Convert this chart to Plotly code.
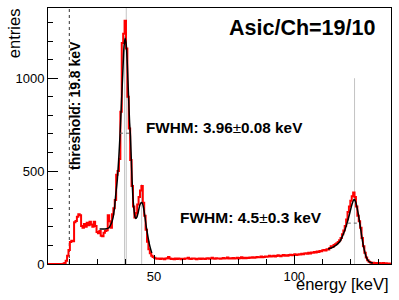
import numpy as np
import plotly.graph_objects as go

# ---------------- data ----------------
BIN_START = 12.0   # keV, left edge of first bin
BIN_WIDTH = 0.5    # keV

counts = (
    [0, 0, 0, 0, 0, 0, 0, 0, 0, 0, 0]
    + [1, 5, 18, 45, 75, 118, 125, 122, 225, 232,
       255, 268, 262, 205, 195, 215, 200, 222, 208, 228,
       212, 200, 228, 205, 172, 165, 178, 152, 150, 168,
       178, 182, 262, 230, 195, 268, 300, 345, 480, 500,
       565, 820, 1190, 1240, 1310, 1160, 900, 730, 560, 420,
       310, 250, 275, 320, 360, 395, 420, 330, 260, 185,
       120, 80, 58, 45, 38]
    + [33, 30, 28, 29, 27, 30, 28, 26, 29, 31,
       38, 30, 27, 28, 26, 29, 27, 30, 28, 26,
       28, 27, 30, 29, 34, 28, 27, 29, 30, 28,
       26, 28, 29, 27, 30, 28, 27, 29, 31, 28,
       30, 33, 29, 28, 31, 29, 30, 28, 30, 32,
       29, 31, 35, 30, 31, 29, 32, 30, 31, 33,
       30, 32, 36, 31, 33, 31, 34, 32, 35, 33]
    + [36, 34, 35, 38, 36, 37, 40, 36, 38, 41,
       39, 40, 44, 40, 42, 45, 41, 43, 47, 44,
       42, 46, 48, 45, 47, 44, 48, 50, 47, 49,
       52, 48, 50, 53, 51, 55, 52, 56, 58, 55,
       60, 57, 62, 60, 64, 62, 67, 65, 70, 68,
       74, 76, 72, 80]
    + [78, 86, 95, 92, 102, 106, 112, 118, 128, 140,
       160, 180, 205, 240, 280, 310, 340, 365, 385, 360,
       310, 260, 230, 195, 140, 95, 60, 35, 20, 12,
       8, 6, 7, 5, 4, 6, 5, 3, 4, 5,
       3, 4, 2, 3, 2]
)

fit1_e = [30.6, 31.5, 32.5, 33.5, 34.0, 34.5, 35.0, 35.4, 35.9, 36.4, 36.9,
          37.4, 37.9, 38.4, 38.9, 39.3, 39.7, 40.1, 40.5, 40.9, 41.3, 41.6,
          42.0, 42.4, 42.8, 43.2, 43.5, 43.9, 44.4, 44.9, 45.4, 45.8, 46.3,
          46.8, 47.3, 47.8, 48.3, 48.8, 49.2]
fit1_c = [188, 188, 189, 192, 197, 210, 228, 250, 300, 380, 450,
          560, 700, 870, 1040, 1170, 1215, 1180, 1070, 910, 760, 690,
          520, 380, 300, 255, 245, 252, 280, 315, 330, 328, 300,
          250, 195, 150, 110, 80, 60]

fit2_e = [112.1, 113.2, 114.3, 115.3, 116.3, 117.2, 118.1, 119.0, 119.85, 120.6,
          121.4, 122.0, 122.7, 123.45, 124.0, 124.6, 125.2, 125.8, 126.4, 127.0, 128.0]
fit2_c = [81, 86, 95, 106, 121, 150, 185, 228, 277, 322,
          348, 330, 280, 212, 155, 103, 62, 33, 18, 10, 5]

marker_e = [39.5, 40.1, 45.6, 121.5]
marker_top = [1230, 1378, 430, 1000]

fwhm_y = [704, 220]
fwhm_lo = [37.9, 119.1]
fwhm_hi = [41.7, 123.0]

threshold_e = 19.8
x_range = [12.2, 134.5]
y_range = [0, 1378]

FONT = "Liberation Sans, Arial, Helvetica, sans-serif"

# ---------------- figure ----------------
edges = BIN_START + BIN_WIDTH * np.arange(len(counts) + 1)
hist_y = list(counts) + [counts[-1]]

fig = go.Figure()

# gray peak-position lines
mx, my = [], []
for e, t in zip(marker_e, marker_top):
    mx += [e, e, None]
    my += [0, t, None]
fig.add_trace(go.Scatter(x=mx, y=my, mode="lines",
                         line=dict(color="#c4c4c4", width=1), hoverinfo="skip"))

# threshold line
fig.add_trace(go.Scatter(x=[threshold_e, threshold_e], y=y_range, mode="lines",
                         line=dict(color="#333333", width=1, dash="dot"), hoverinfo="skip"))

# histogram
fig.add_trace(go.Scatter(x=edges, y=hist_y, mode="lines", line_shape="hv",
                         line=dict(color="#ff0000", width=2)))

# fits
fig.add_trace(go.Scatter(x=fit1_e, y=fit1_c, mode="lines",
                         line=dict(color="black", width=1.5, shape="spline", smoothing=0.5)))
fig.add_trace(go.Scatter(x=fit2_e, y=fit2_c, mode="lines",
                         line=dict(color="black", width=1.5, shape="spline", smoothing=0.5)))

# FWHM dotted lines
hx, hy = [], []
for yv, lo, hi in zip(fwhm_y, fwhm_lo, fwhm_hi):
    hx += [lo, hi, None]
    hy += [yv, yv, None]
fig.add_trace(go.Scatter(x=hx, y=hy, mode="lines",
                         line=dict(color="#666666", width=1, dash="dot"), hoverinfo="skip"))

annotations = [
    dict(x=129.4, y=1270, xref="x", yref="y", xanchor="right", yanchor="middle",
         text="<b>Asic/Ch=19/10</b>", showarrow=False,
         font=dict(family=FONT, size=21.5, color="black")),
    dict(x=46.5, y=734, xref="x", yref="y", xanchor="left", yanchor="middle",
         text="<b>FWHM: 3.96</b>±<b>0.08 keV</b>", showarrow=False,
         font=dict(family=FONT, size=15.3, color="black")),
    dict(x=58.6, y=250, xref="x", yref="y", xanchor="left", yanchor="middle",
         text="<b>FWHM: 4.5</b>±<b>0.3 keV</b>", showarrow=False,
         font=dict(family=FONT, size=15.5, color="black")),
    dict(x=21.9, y=852, xref="x", yref="y", xanchor="center", yanchor="middle",
         text="<b>threshold: 19.8 keV</b>", textangle=-90, showarrow=False,
         font=dict(family=FONT, size=14, color="black")),
    dict(x=-0.099, y=0.902, xref="paper", yref="paper", xanchor="center", yanchor="middle",
         text="entries", textangle=-90, showarrow=False,
         font=dict(family=FONT, size=16.5, color="black")),
    dict(x=1.0, y=-0.078, xref="paper", yref="paper", xanchor="right", yanchor="middle",
         text="energy [keV]", showarrow=False,
         font=dict(family=FONT, size=16.5, color="black")),
]

axis_common = dict(showgrid=False, zeroline=False, showline=True, linecolor="black",
                   linewidth=1, mirror=True, ticks="inside", tickcolor="black",
                   tickfont=dict(family=FONT, size=13, color="black"))

fig.update_layout(
    width=399, height=300,
    margin=dict(l=48, r=8, t=8, b=36),
    plot_bgcolor="white", paper_bgcolor="white",
    showlegend=False,
    annotations=annotations,
    xaxis=dict(range=x_range, tick0=0, dtick=50, ticklen=9,
               minor=dict(dtick=10, ticks="inside", ticklen=5, tickcolor="black"),
               **axis_common),
    yaxis=dict(range=y_range, tick0=0, dtick=500, ticklen=10,
               minor=dict(dtick=100, ticks="inside", ticklen=5, tickcolor="black"),
               **axis_common),
)

fig.write_html("out.html", config={"displayModeBar": False},
               post_script="document.body.style.margin='0px';")
